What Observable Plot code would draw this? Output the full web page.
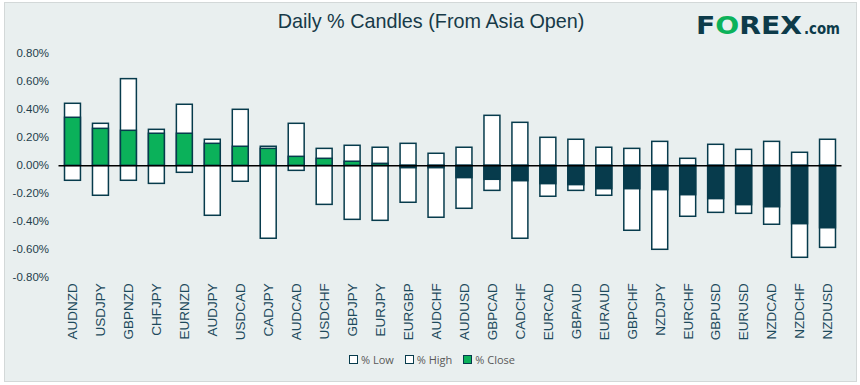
<!DOCTYPE html>
<html><head><meta charset="utf-8">
<script src="https://cdn.jsdelivr.net/npm/d3@7"></script>
<script src="https://cdn.jsdelivr.net/npm/@observablehq/plot@0.6"></script>
<style>
body{margin:0;background:#fff;}
#wrap{position:relative;width:860px;height:385px;overflow:hidden;font-family:"Liberation Sans",Arial,sans-serif;}
#frame{position:absolute;left:4px;top:2px;width:851px;height:378px;background:#E9EFEF;border:1px solid #d3d8d8;}
#title{position:absolute;left:0;top:10px;width:862px;text-align:center;font-size:19.8px;color:#173a48;}
#logo{position:absolute;left:694px;top:8px;}
#chart{position:absolute;left:0;top:40px;}
#legend{position:absolute;left:2px;top:352px;width:860px;display:flex;justify-content:center;gap:11px;font-family:"Open Sans",sans-serif;font-size:11px;color:#595959;}
#legend .it{display:flex;align-items:center;gap:3px;}
#legend .sw{width:7px;height:7px;border:1.2px solid #073B4C;background:#fff;}
</style></head>
<body>
<div id="wrap">
  <div id="frame"></div>
  <div id="title">Daily % Candles (From Asia Open)</div>
  <svg id="logo" width="160" height="36">
    <text x="2" y="26" font-family="DejaVu Sans" font-weight="bold" font-size="24" textLength="106" lengthAdjust="spacingAndGlyphs"><tspan fill="#0d3b4a">F</tspan><tspan fill="#0cb25a">O</tspan><tspan fill="#0d3b4a">REX</tspan></text>
    <text x="110" y="26" font-family="DejaVu Sans" font-weight="bold" font-size="15" fill="#0d3b4a" textLength="36" lengthAdjust="spacingAndGlyphs">.com</text>
  </svg>
  <div id="chart"></div>
  <div id="legend">
    <div class="it"><div class="sw"></div><span>% Low</span></div>
    <div class="it"><div class="sw"></div><span>% High</span></div>
    <div class="it"><div class="sw" style="background:#0BB15A"></div><span>% Close</span></div>
  </div>
</div>
<script>
const pairs = ["AUDNZD","USDJPY","GBPNZD","CHFJPY","EURNZD","AUDJPY","USDCAD","CADJPY","AUDCAD","USDCHF","GBPJPY","EURJPY","EURGBP","AUDCHF","AUDUSD","GBPCAD","CADCHF","EURCAD","GBPAUD","EURAUD","GBPCHF","NZDJPY","EURCHF","GBPUSD","EURUSD","NZDCAD","NZDCHF","NZDUSD"];
const high = [0.443,0.300,0.619,0.257,0.436,0.186,0.400,0.136,0.300,0.121,0.143,0.129,0.157,0.086,0.129,0.357,0.307,0.200,0.186,0.129,0.121,0.171,0.050,0.150,0.114,0.171,0.093,0.186];
const low = [-0.107,-0.214,-0.107,-0.129,-0.050,-0.357,-0.114,-0.521,-0.036,-0.279,-0.386,-0.393,-0.264,-0.371,-0.307,-0.179,-0.521,-0.221,-0.179,-0.214,-0.464,-0.600,-0.364,-0.336,-0.343,-0.421,-0.657,-0.586];
const close = [0.343,0.264,0.250,0.229,0.229,0.157,0.136,0.121,0.064,0.050,0.029,0.014,-0.017,-0.017,-0.088,-0.100,-0.110,-0.131,-0.138,-0.167,-0.167,-0.174,-0.210,-0.238,-0.281,-0.296,-0.417,-0.446];
const yTicks = [-0.8,-0.6,-0.4,-0.2,0,0.2,0.4,0.6,0.8];

const rows = pairs.map((p, i) => ({pair: p, high: high[i], low: low[i], close: close[i]}));
const dark = "#073B4C";
const green = "#0BB15A";
const textCol = "#1f3e4c";

const chart = Plot.plot({
  width: 860,
  height: 300,
  marginTop: 13.3,
  marginBottom: 62.7,
  marginLeft: 58.5,
  marginRight: 18.5,
  style: {background: "transparent", fontFamily: "'Liberation Sans', Arial, sans-serif", color: textCol},
  x: {domain: pairs, paddingInner: 0.43, paddingOuter: 0.215, round: false, axis: null},
  y: {domain: [-0.8, 0.8], axis: null},
  marks: [
    Plot.barY(rows, {x: "pair", y1: 0, y2: "low", fill: "#fff", stroke: dark, strokeWidth: 1.5}),
    Plot.barY(rows, {x: "pair", y1: 0, y2: "high", fill: "#fff", stroke: dark, strokeWidth: 1.5}),
    Plot.barY(rows, {x: "pair", y1: 0, y2: "close", fill: d => d.close >= 0 ? green : dark, stroke: dark, strokeWidth: 1.5}),
    Plot.ruleY([0], {stroke: "#000", strokeWidth: 1.5}),
    Plot.axisY(yTicks, {tickSize: 0, tickPadding: 10, fontSize: 11.5, fill: textCol, tickFormat: d => d.toFixed(2) + "%", label: null}),
    Plot.axisX({tickSize: 0, tickPadding: 5.5, tickRotate: -90, fontSize: 13.5, fill: "#1d4a5c", label: null})
  ]
});
document.getElementById("chart").appendChild(chart);
</script>
</body></html>
